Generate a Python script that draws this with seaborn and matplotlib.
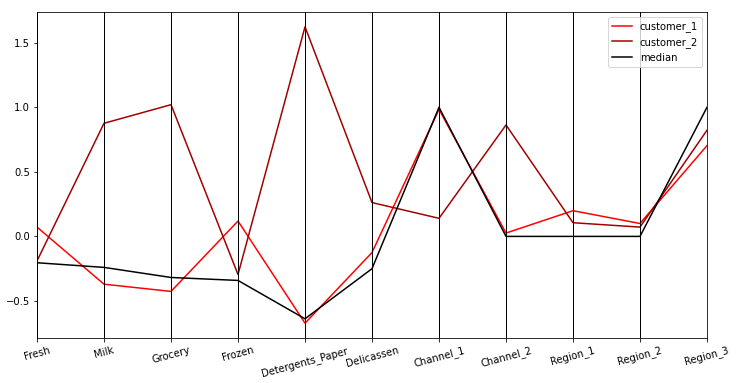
import numpy as np
import pandas as pd
import matplotlib
matplotlib.use("Agg")
import matplotlib.pyplot as plt
import seaborn as sns

features = ['Fresh', 'Milk', 'Grocery', 'Frozen', 'Detergents_Paper', 'Delicassen',
            'Channel_1', 'Channel_2', 'Region_1', 'Region_2', 'Region_3']
customer_1 = [0.072, -0.37, -0.426, 0.119, -0.672, -0.125, 0.984, 0.026, 0.199, 0.10, 0.703]
customer_2 = [-0.19, 0.876, 1.02, -0.295, 1.623, 0.262, 0.14, 0.863, 0.106, 0.072, 0.822]
median = [-0.204, -0.24, -0.318, -0.341, -0.638, -0.25, 1.0, 0.0, 0.0, 0.0, 1.0]

series = {'customer_1': customer_1, 'customer_2': customer_2, 'median': median}
rows = []
for name, vals in series.items():
    for i, v in enumerate(vals):
        rows.append({'feature': i, 'value': v, 'who': name})
df = pd.DataFrame(rows)

palette = {'customer_1': 'red', 'customer_2': '#a00000', 'median': 'black'}

fig = plt.figure(figsize=(739 / 72, 383 / 72), dpi=72)
ax = fig.add_axes([37 / 739, 45 / 383, 670 / 739, 326 / 383])

sns.lineplot(data=df, x='feature', y='value', hue='who', palette=palette,
             linewidth=1.5, sort=False, ax=ax)

for i in range(len(features)):
    ax.axvline(i, color='black', linewidth=1)

ax.set_xlim(0, len(features) - 1)
ax.set_xticks(range(len(features)))
ax.set_xticklabels(features, rotation=15)
ax.set_yticks([-0.5, 0.0, 0.5, 1.0, 1.5])
ax.set_xlabel('')
ax.set_ylabel('')

handles, labels = ax.get_legend_handles_labels()
ax.legend(handles, labels, loc='upper right')

fig.savefig('out.png', dpi=72)
